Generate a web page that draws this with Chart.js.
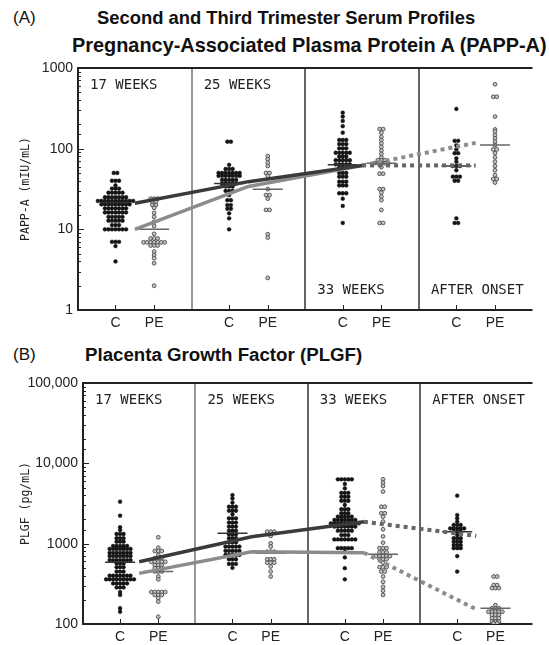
<!DOCTYPE html>
<html>
<head>
<meta charset="utf-8">
<script src="https://cdn.jsdelivr.net/npm/chart.js@4.4.0/dist/chart.umd.min.js"></script>
<style>
body { margin: 0; background: #fff; width: 549px; height: 645px; overflow: hidden; position: relative; font-family: "Liberation Sans", Arial, sans-serif; }
.t { position: absolute; white-space: nowrap; color: #111; line-height: 22px; }
.b { font-weight: bold; font-size: 19px; }
canvas { position: absolute; left: 0; }
</style>
</head>
<body>
<div class="t" style="left:13px;top:7px;font-size:17px">(A)</div>
<div class="t b" style="left:97px;top:7px;font-size:18.4px">Second and Third Trimester Serum Profiles</div>
<div class="t b" style="left:72px;top:34px;font-size:19.9px">Pregnancy-Associated Plasma Protein A (PAPP-A)</div>
<div class="t" style="left:13px;top:344px;font-size:17px">(B)</div>
<div class="t b" style="left:85px;top:344px;font-size:18.7px">Placenta Growth Factor (PLGF)</div>
<canvas id="chartA" width="549" height="335" style="top:0"></canvas>
<canvas id="chartB" width="549" height="310" style="top:335px"></canvas>
<script>
const sections = ['17 WEEKS', '25 WEEKS', '33 WEEKS', 'AFTER ONSET'];
const groups = ['C', 'PE'];
const groupPos = [0.33, 0.67];

// PAPP-A (mIU/mL): [value, number of dots at that value]
const pappC17 = [[50,2],[40,3],[35,1],[32,3],[28.5,5],[25,7],[22.5,11],[20.4,9],[18.2,7],[16.2,7],[14.3,5],[12.8,5],[11.3,3],[10,7],[7,3],[6.2,1],[4,1]];
const pappPE17 = [[24,3],[22,2],[20,2],[18.5,1],[16,1],[14.3,1],[12.4,1],[11,1],[8.8,1],[7.7,3],[6.9,7],[6.3,3],[5.3,1],[4.8,1],[4.4,1],[3.8,1],[2,1]];
const pappC25 = [[122,2],[63,1],[56,3],[50,7],[46,7],[41,5],[37,5],[34,3],[30,3],[26.6,1],[23,2],[20,2],[18,2],[15.8,1],[13.7,1],[10,1]];
const pappPE25 = [[81,1],[74,1],[67,1],[61,1],[50,2],[46,1],[31.5,1],[26.6,2],[24,1],[17.4,2],[8.7,1],[7.9,1],[2.5,1]];
const pappC33 = [[279,1],[250,1],[221,1],[190,1],[158,1],[128,3],[114,3],[101,3],[89,5],[80,3],[72,5],[64,5],[58,3],[50,3],[45,3],[39,3],[35,3],[28,3],[24,1],[19.5,1],[12,1]];
const pappPE33 = [[175,2],[158,1],[140,1],[128,1],[116,1],[105,1],[95,1],[86,1],[78,1],[72,3],[66,5],[59,1],[49,2],[31.5,2],[28.5,1],[25.5,1],[23,1],[17.4,1],[12,2]];
const pappCAO = [[311,1],[125,2],[110,1],[98,1],[88,2],[76,1],[69,1],[61,3],[54,1],[45,3],[40,2],[13.7,1],[12,2]];
const pappPEAO = [[628,1],[440,2],[250,1],[173,1],[163,1],[147,1],[134,1],[122,1],[111,1],[98,2],[88,1],[78,1],[69,1],[61,1],[54,1],[47,1],[42,2],[38,1]];
const pappMedianC = [21.5, 37, 63, 61];
const pappMedianPE = [10, 31.5, 66, 111];
const pappTrendC = [21, 39, 62, 62];
const pappTrendPE = [10, 34, 62, 118];
const pappTicks = [1, 10, 100, 1000];

// PLGF (pg/mL)
const plgfC17 = [[3330,1],[2230,1],[1600,1],[1480,1],[1320,3],[1170,3],[1060,3],[935,5],[860,7],[770,7],[700,7],[625,7],[570,3],[510,3],[450,3],[400,7],[360,9],[320,5],[285,3],[250,1],[230,1],[157,1],[142,1]];
const plgfPE17 = [[1200,1],[890,1],[810,3],[725,1],[660,3],[595,5],[540,3],[495,3],[450,3],[390,1],[360,1],[250,5],[230,3],[210,1],[190,1],[123,1]];
const plgfC25 = [[4030,1],[3650,1],[3240,1],[2880,3],[2570,3],[2320,1],[2070,3],[1830,3],[1630,3],[1450,3],[1310,3],[1170,3],[1040,3],[920,5],[815,5],[725,5],[640,3],[560,3],[500,1]];
const plgfPE25 = [[1410,3],[1250,1],[1010,1],[920,1],[795,3],[640,3],[580,3],[520,1],[450,1],[390,1]];
const plgfC33 = [[6330,5],[5530,1],[4880,1],[4290,3],[3840,3],[3420,3],[3030,1],[2680,3],[2390,3],[2170,5],[1970,7],[1790,9],[1630,7],[1450,5],[1280,3],[1130,7],[880,5],[795,1],[675,1],[495,1],[360,1]];
const plgfPE33 = [[6330,1],[5730,1],[5220,1],[4450,1],[2880,2],[2390,2],[2170,1],[1880,1],[1510,1],[1230,1],[1030,1],[880,3],[780,3],[700,5],[640,3],[580,1],[510,3],[450,2],[390,1],[335,1],[290,1],[260,1],[230,1]];
const plgfCAO = [[3960,1],[2270,1],[2070,1],[1880,1],[1710,3],[1550,5],[1410,3],[1280,1],[1170,3],[1060,3],[960,3],[880,3],[700,1],[450,1]];
const plgfPEAO = [[390,2],[305,2],[280,3],[172,1],[157,3],[142,5],[130,3],[118,3],[107,3],[102,2]];
const plgfMedianC = [585, 1350, 1750, 1410];
const plgfMedianPE = [450, 760, 740, 157];
const plgfTrendC = [595, 1220, 1880, 1250];
const plgfTrendPE = [427, 795, 770, 152];
const plgfTicks = [100, 1000, 10000, 100000];

Chart.defaults.font.family = '"Liberation Sans", Arial, sans-serif';
Chart.defaults.color = '#222';

// dots sharing a value are spread sideways, like a dot plot
function swarm(rows, x0) {
    const pts = [];
    rows.forEach(([v, n]) => {
        for (let i = 0; i < n; i++) pts.push({x: x0 + (i - (n - 1) / 2) * 0.031, y: v});
    });
    return pts;
}

const panelDeco = {
    id: 'panelDeco',
    beforeDatasetsDraw(chart, args, opts) {
        const {ctx, chartArea: a, scales: {x, y}} = chart;
        ctx.save();
        // section dividers
        ctx.lineWidth = 1.5;
        for (let k = 1; k < sections.length; k++) {
            const px = Math.round(x.getPixelForValue(k));
            ctx.strokeStyle = k === 1 ? '#777' : '#333';
            ctx.beginPath(); ctx.moveTo(px, a.top); ctx.lineTo(px, a.bottom); ctx.stroke();
        }
        ctx.strokeStyle = '#222';
        ctx.lineWidth = 1;
        // inward x ticks
        x.ticks.forEach(t => {
            const px = Math.round(x.getPixelForValue(t.value)) + 0.5;
            ctx.beginPath(); ctx.moveTo(px, a.bottom); ctx.lineTo(px, a.bottom - 5); ctx.stroke();
        });
        // inward y ticks, long at decades
        y.ticks.forEach(t => {
            const py = Math.round(y.getPixelForValue(t.value)) + 0.5;
            const major = opts.ticks.some(v => Math.abs(v - t.value) / v < 1e-6);
            ctx.beginPath(); ctx.moveTo(a.left, py); ctx.lineTo(a.left + (major ? 6 : 3), py); ctx.stroke();
        });
        // frame (top, left, bottom)
        ctx.lineWidth = 2;
        ctx.strokeStyle = '#222';
        ctx.beginPath();
        ctx.moveTo(a.right, a.top); ctx.lineTo(a.left, a.top); ctx.lineTo(a.left, a.bottom); ctx.lineTo(a.right, a.bottom);
        ctx.stroke();
        // section names
        ctx.font = '14px "DejaVu Sans Mono"';
        ctx.fillStyle = '#222';
        ctx.textBaseline = 'middle';
        sections.forEach((s, k) => {
            const px = x.getPixelForValue(k) + 12;
            const py = opts.bottom.includes(k) ? a.bottom - 20 : a.top + 17;
            ctx.fillText(s, px, py);
        });
        ctx.restore();
    }
};

function makePanel(id, o) {
    const ds = [];
    const solid = (vals, color) => ({
        data: vals.slice(0, 3).map((v, k) => ({x: k + 0.5, y: v})),
        showLine: true, borderColor: color, borderWidth: 3.5, pointRadius: 0, order: 0
    });
    const dotted = (vals, color) => ({
        data: [{x: 2.5, y: vals[2]}, {x: 3.5, y: vals[3]}],
        showLine: true, borderColor: color, borderWidth: 4, borderDash: [4, 4], pointRadius: 0, order: 0
    });
    ds.push(solid(o.trendC, '#3a3a3a'), solid(o.trendPE, '#8c8c8c'));
    ds.push(dotted(o.trendC, '#666'), dotted(o.trendPE, '#8c8c8c'));
    [o.medianC, o.medianPE].forEach((med, g) => {
        ds.push({
            data: med.map((v, k) => ({x: k + groupPos[g], y: v})),
            pointStyle: 'line', pointRadius: 15, borderWidth: 1.5,
            borderColor: g ? '#666' : '#333', order: 1
        });
    });
    o.dots.forEach((pair, k) => {
        pair.forEach((rows, g) => {
            ds.push({
                data: swarm(rows, k + groupPos[g]),
                pointRadius: 1.9, borderWidth: g ? 0.9 : 0.5,
                backgroundColor: g ? '#c4c4c4' : '#151515',
                borderColor: g ? '#4a4a4a' : '#151515',
                order: 2
            });
        });
    });
    const xTicks = [];
    sections.forEach((s, k) => groupPos.forEach(p => xTicks.push(k + p)));
    return new Chart(document.getElementById(id), {
        type: 'scatter',
        data: {datasets: ds},
        options: {
            responsive: false,
            animation: false,
            devicePixelRatio: 1,
            layout: {padding: {top: o.top, right: 0, left: 0, bottom: 0}},
            plugins: {
                legend: {display: false},
                tooltip: {enabled: false},
                panelDeco: {ticks: o.ticks, bottom: o.bottomLabels}
            },
            scales: {
                x: {
                    type: 'linear', min: 0, max: 4,
                    afterFit: s => { s.height = o.xHeight; },
                    afterBuildTicks: s => { s.ticks = xTicks.map(v => ({value: v})); },
                    ticks: {autoSkip: false, maxRotation: 0, padding: 5, font: {size: 14},
                        callback: (v, i) => groups[i % 2]},
                    grid: {display: false, tickLength: 0},
                    border: {display: false}
                },
                y: {
                    type: 'logarithmic', min: o.min, max: o.max,
                    afterFit: s => { s.width = o.left; },
                    ticks: {autoSkip: false, padding: 5, font: {size: 14},
                        callback: v => o.ticks.some(t => Math.abs(t - v) / t < 1e-6)
                            ? (v >= 10000 ? v.toLocaleString('en-US') : String(v)) : ''},
                    grid: {display: false, tickLength: 0},
                    border: {display: false},
                    title: {display: true, text: o.yTitle, color: '#222',
                        font: {family: '"DejaVu Sans Mono"', size: 11.5}, padding: {top: 19, bottom: 0}}
                }
            }
        },
        plugins: [panelDeco]
    });
}

makePanel('chartA', {
    top: 68, left: 78, xHeight: 25, min: 1, max: 1000, ticks: pappTicks,
    yTitle: 'PAPP-A (mIU/mL)', bottomLabels: [2, 3],
    medianC: pappMedianC, medianPE: pappMedianPE, trendC: pappTrendC, trendPE: pappTrendPE,
    dots: [[pappC17, pappPE17], [pappC25, pappPE25], [pappC33, pappPE33], [pappCAO, pappPEAO]]
});

makePanel('chartB', {
    top: 48, left: 83, xHeight: 21, min: 100, max: 100000, ticks: plgfTicks,
    yTitle: 'PLGF (pg/mL)', bottomLabels: [],
    medianC: plgfMedianC, medianPE: plgfMedianPE, trendC: plgfTrendC, trendPE: plgfTrendPE,
    dots: [[plgfC17, plgfPE17], [plgfC25, plgfPE25], [plgfC33, plgfPE33], [plgfCAO, plgfPEAO]]
});
</script>
</body>
</html>
